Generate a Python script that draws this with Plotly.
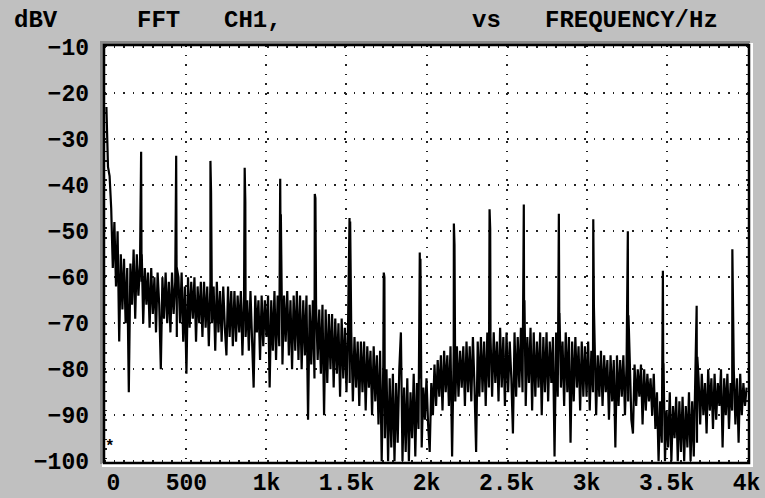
import plotly.graph_objects as go

# ---------------- data ----------------
step_hz = 10
noise_db = [
    -23, -36, -38, -45, -58, -48, -62, -50, -74, -55, -67, -56, -70, -58, -85, -57, -66, -54, -69, -55,
    -64, -57, -61, -70, -58, -66, -59, -71, -58, -68, -60, -72, -59, -66, -80, -60, -69, -59, -70, -61,
    -72, -59, -68, -61, -73, -60, -70, -59, -74, -62, -81, -60, -71, -61, -69, -60, -74, -62, -70, -61,
    -73, -61, -71, -62, -75, -61, -70, -62, -76, -61, -72, -63, -74, -62, -71, -77, -62, -73, -63, -75,
    -63, -74, -64, -72, -63, -77, -64, -73, -65, -76, -63, -74, -84, -64, -72, -65, -78, -64, -75, -65,
    -73, -64, -84, -65, -76, -63, -78, -64, -75, -65, -79, -64, -74, -63, -77, -65, -80, -64, -76, -63,
    -78, -64, -80, -65, -77, -64, -91, -66, -79, -65, -82, -66, -78, -67, -81, -66, -90, -67, -83, -68,
    -80, -68, -84, -69, -81, -70, -86, -69, -82, -71, -85, -70, -83, -72, -87, -73, -84, -74, -88, -74,
    -85, -74, -89, -75, -84, -76, -90, -75, -87, -77, -92, -76, -100, -79, -95, -80, -100, -82, -97, -81,
    -100, -83, -96, -80, -72, -100, -84, -98, -82, -100, -85, -95, -81, -99, -83, -93, -82, -97, -84, -91,
    -82, -92, -98, -83, -90, -79, -88, -78, -86, -77, -89, -76, -85, -77, -88, -75, -99, -76, -87, -75,
    -86, -76, -84, -75, -88, -74, -85, -75, -87, -73, -84, -98, -74, -86, -73, -85, -74, -88, -72, -84,
    -73, -86, -72, -83, -74, -87, -71, -84, -73, -88, -72, -85, -74, -82, -94, -72, -86, -73, -84, -71,
    -85, -72, -88, -73, -83, -71, -89, -72, -86, -74, -84, -72, -90, -73, -85, -72, -87, -74, -83, -73,
    -99, -72, -86, -73, -84, -74, -88, -72, -85, -73, -96, -74, -87, -73, -84, -75, -89, -74, -86, -75,
    -86, -74, -89, -76, -85, -75, -90, -77, -86, -76, -88, -77, -85, -78, -91, -77, -87, -78, -97, -77,
    -88, -78, -86, -77, -90, -79, -87, -78, -91, -94, -79, -88, -80, -86, -79, -92, -80, -89, -81, -87,
    -82, -90, -81, -93, -85, -100, -87, -96, -86, -100, -89, -97, -85, -100, -88, -95, -86, -100, -87, -98,
    -86, -100, -88, -97, -85, -100, -87, -99, -84, -96, -82, -92, -81, -90, -83, -94, -80, -89, -82, -93,
    -81, -91, -83, -88, -80, -97, -82, -90, -81, -93, -83, -89, -80, -92, -82, -96, -81, -90, -83, -88,
    -84,
]
harm_freq = [217, 436, 650, 864, 1086, 1302, 1519, 1733, 1958, 2171, 2394, 2608,
             2827, 3042, 3258, 3477, 3688, 3911]
harm_peak = [-32.7, -33.6, -34.7, -36.2, -38.6, -41.9, -47.1, -59.0, -54.6, -48.3, -45.2, -44.2,
             -46.2, -47.4, -50.0, -58.6, -66.2, -53.9]
harm_shoulder = [-55, -58, -41.5, -43.6, -46.3, -42.8, -47.9, -60, -56, -53, -49.5, -65,
                 -67.8, -66.4, -68.3, -78.7, -77.3, -73.7]

x_tickvals = [0, 500, 1000, 1500, 2000, 2500, 3000, 3500, 4000]
x_ticktext = ["\u00a00", "500", "1k", "1.5k", "2k", "2.5k", "3k", "3.5k", "4k"]
y_tickvals = [-10, -20, -30, -40, -50, -60, -70, -80, -90, -100]
y_ticktext = ["\u221210", "\u221220", "\u221230", "\u221240", "\u221250",
              "\u221260", "\u221270", "\u221280", "\u221290", "\u2212100"]

header = [("dBV", 12), ("FFT", 135), ("CH1,", 222), ("vs", 470), ("FREQUENCY/Hz", 543)]

# ---------------- build series ----------------
pts = [(i * step_hz, v) for i, v in enumerate(noise_db)]
for f, p, s in zip(harm_freq, harm_peak, harm_shoulder):
    pts.append((f, p))
    pts.append((f + 4, s))
pts.sort(key=lambda t: t[0])
xs = [p[0] for p in pts]
ys = [p[1] for p in pts]

# ---------------- geometry ----------------
W, H = 765, 498
L, R, T, B = 104, 749, 45, 463
pw, ph = R - L, B - T

def px(x):
    return (x - L) / pw

def py(y):
    return (B - y) / ph

FONT = "Liberation Mono"
bold = lambda s: "<b>" + s + "</b>"

fig = go.Figure()
fig.add_trace(go.Scatter(x=xs, y=ys, mode="lines",
                         line=dict(color="black", width=2.2), hoverinfo="skip"))

grid = dict(showgrid=True, gridcolor="#222", gridwidth=1.6, griddash="1.6px,8px",
            zeroline=False, showline=False, ticks="", automargin=False)

fig.update_xaxes(range=[-15, 4015], tickvals=x_tickvals, ticktext=[bold(t) for t in x_ticktext],
                 tickfont=dict(family=FONT, size=23, color="black"),
                 ticklabelstandoff=3, **grid)
fig.update_yaxes(range=[-100.4, -9.5], tickvals=y_tickvals, ticktext=[bold(t) for t in y_ticktext],
                 tickfont=dict(family=FONT, size=23, color="black"),
                 ticklabelstandoff=14, **grid)

shapes = [
    dict(type="rect", xref="paper", yref="paper", x0=px(L - 4), x1=px(R + 1), y0=py(T), y1=py(T - 4),
         fillcolor="#8a8a8a", line=dict(width=0), layer="below"),
    dict(type="rect", xref="paper", yref="paper", x0=px(L - 4), x1=px(L), y0=py(B + 1), y1=py(T - 4),
         fillcolor="#8a8a8a", line=dict(width=0), layer="below"),
    dict(type="rect", xref="paper", yref="paper", x0=px(L - 2), x1=px(R + 4), y0=py(B + 4), y1=py(B),
         fillcolor="white", line=dict(width=0), layer="below"),
    dict(type="rect", xref="paper", yref="paper", x0=px(R), x1=px(R + 4), y0=py(B + 4), y1=py(T - 2),
         fillcolor="white", line=dict(width=0), layer="below"),
    dict(type="rect", xref="paper", yref="paper", x0=0, x1=1, y0=0, y1=1,
         line=dict(color="black", width=2.5)),
]

annotations = [
    dict(text=bold(t), x=px(xl), y=py(20), xref="paper", yref="paper", xanchor="left", yanchor="middle",
         showarrow=False, font=dict(family=FONT, size=24, color="black"))
    for t, xl in header
]
annotations.append(dict(text=bold("*"), x=22, y=-97, xref="x", yref="y", showarrow=False,
                        font=dict(family=FONT, size=16, color="black")))

fig.update_layout(
    width=W, height=H,
    margin=dict(l=L, r=W - R, t=T, b=H - B, autoexpand=False),
    paper_bgcolor="#c0c0c0", plot_bgcolor="white",
    showlegend=False, shapes=shapes, annotations=annotations,
)

fig.write_html("out.html", config={"displayModeBar": False},
               post_script="document.body.style.margin='0';document.body.style.overflow='hidden';")
